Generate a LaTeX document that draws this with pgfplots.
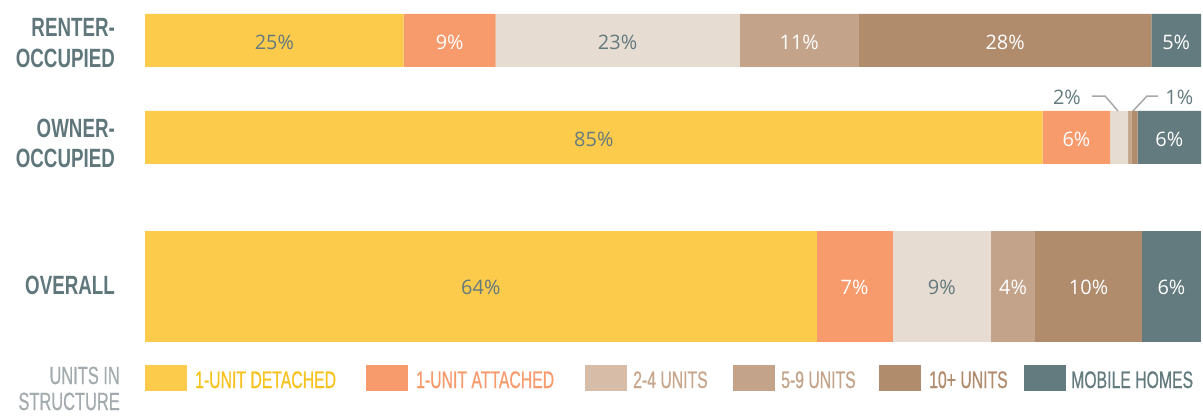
\documentclass[border=0pt]{standalone}
\usepackage{pgfplots}
\pgfplotsset{compat=1.18}
\usepackage{fontspec}
\setmainfont{Open Sans}
\newfontfamily\condb[FakeStretch=0.71]{Liberation Sans}
\newfontfamily\condl[FakeStretch=0.66,FakeBold=0.6]{Liberation Sans}
\definecolor{cA}{HTML}{FDCB4C}
\definecolor{cB}{HTML}{F79A6C}
\definecolor{cC}{HTML}{E6DCD1}
\definecolor{cD}{HTML}{C3A48A}
\definecolor{cE}{HTML}{B08B6C}
\definecolor{cF}{HTML}{637A7E}
\definecolor{lgC}{HTML}{D7BCA8}
\definecolor{txA}{HTML}{F7C21E}
\definecolor{txC}{HTML}{C8A68C}
\definecolor{catgray}{HTML}{5F777B}
\definecolor{lightgray}{HTML}{A3ABAE}
\definecolor{callout}{HTML}{A8A8A8}
\pgfplotsset{
  geom/.style={at={(145bp,0bp)}, anchor=south west, scale only axis,
    width=1056bp, height=415bp, xmin=0, xmax=100, ymin=0, ymax=415,
    hide axis, clip=false},
  lbl/.style={only marks, mark=none, point meta=explicit symbolic,
    nodes near coords,
    every node near coord/.style={anchor=center, inner sep=0pt,
      font=\fontsize{20}{24}\selectfont, text=#1}},
}
\begin{document}
\begin{tikzpicture}[x=1bp,y=1bp,
  cat/.style={font=\condb\bfseries\fontsize{26.5}{31}\selectfont, text=catgray, inner sep=0pt, anchor=base east},
  leg/.style={font=\condl\fontsize{24}{28}\selectfont, inner sep=0pt, anchor=base west}]
\useasboundingbox (0,0) rectangle (1203,415);
% ---------- renter / owner ----------
\begin{axis}[geom, xbar stacked, bar width=53bp]
\addplot[fill=cA, draw=none] coordinates {(24.5,374.5) (85.0,277.5)};
\addplot[fill=cB, draw=none] coordinates {(8.7,374.5) (6.4,277.5)};
\addplot[fill=cC, draw=none] coordinates {(23.1,374.5) (1.7,277.5)};
\addplot[fill=cD, draw=none] coordinates {(11.3,374.5) (0.3,277.5)};
\addplot[fill=cE, draw=none] coordinates {(27.7,374.5) (0.6,277.5)};
\addplot[fill=cF, draw=none] coordinates {(4.7,374.5) (6.0,277.5)};
\end{axis}
% ---------- overall ----------
\begin{axis}[geom, xbar stacked, bar width=111bp]
\addplot[fill=cA, draw=none] coordinates {(63.6,128.5)};
\addplot[fill=cB, draw=none] coordinates {(7.2,128.5)};
\addplot[fill=cC, draw=none] coordinates {(9.3,128.5)};
\addplot[fill=cD, draw=none] coordinates {(4.2,128.5)};
\addplot[fill=cE, draw=none] coordinates {(10.1,128.5)};
\addplot[fill=cF, draw=none] coordinates {(5.6,128.5)};
\end{axis}
% ---------- value labels (segment centres) ----------
\begin{axis}[geom]
\addplot[lbl=cF] coordinates {
  (12.25,373) [25\%] (44.75,373) [23\%]
  (42.5,276) [85\%]
  (31.8,128) [64\%] (75.45,128) [9\%]
  (87.3,317.5) [2\%] (97.95,317.5) [1\%]};
\addplot[lbl=white] coordinates {
  (28.85,373) [9\%] (61.95,373) [11\%] (81.45,373) [28\%] (97.65,373) [5\%]
  (88.2,276) [6\%] (97.0,276) [6\%]
  (67.2,128) [7\%] (82.2,128) [4\%] (89.35,128) [10\%] (97.2,128) [6\%]};
\end{axis}
% ---------- callout leaders ----------
\draw[callout, line width=1.5bp] (1092,319) -- (1105,319) -- (1118,304);
\draw[callout, line width=1.5bp] (1158,319) -- (1147,319) -- (1133,304);
% ---------- category labels ----------
\node[cat] at (115,379) {RENTER-};
\node[cat] at (115,348) {OCCUPIED};
\node[cat] at (115,278) {OWNER-};
\node[cat] at (115,248) {OCCUPIED};
\node[cat] at (115,121) {OVERALL};
% ---------- legend ----------
\node[cat, text=lightgray, font=\condl\fontsize{25}{30}\selectfont] at (120,31) {UNITS IN};
\node[cat, text=lightgray, font=\condl\fontsize{25}{30}\selectfont] at (120,5) {STRUCTURE};
\fill[cA]  (145,24) rectangle (187,50);
\node[leg, text=txA] at (195,27) {1-UNIT DETACHED};
\fill[cB]  (366,24) rectangle (408,50);
\node[leg, text=cB] at (416,27) {1-UNIT ATTACHED};
\fill[lgC] (585,24) rectangle (627,50);
\node[leg, text=txC] at (633,27) {2-4 UNITS};
\fill[cD]  (733,24) rectangle (775,50);
\node[leg, text=cD] at (781,27) {5-9 UNITS};
\fill[cE]  (879,24) rectangle (921,50);
\node[leg, text=cE] at (929,27) {10+ UNITS};
\fill[cF]  (1024,24) rectangle (1066,50);
\node[leg, text=cF] at (1071,27) {MOBILE HOMES};
\end{tikzpicture}
\end{document}
